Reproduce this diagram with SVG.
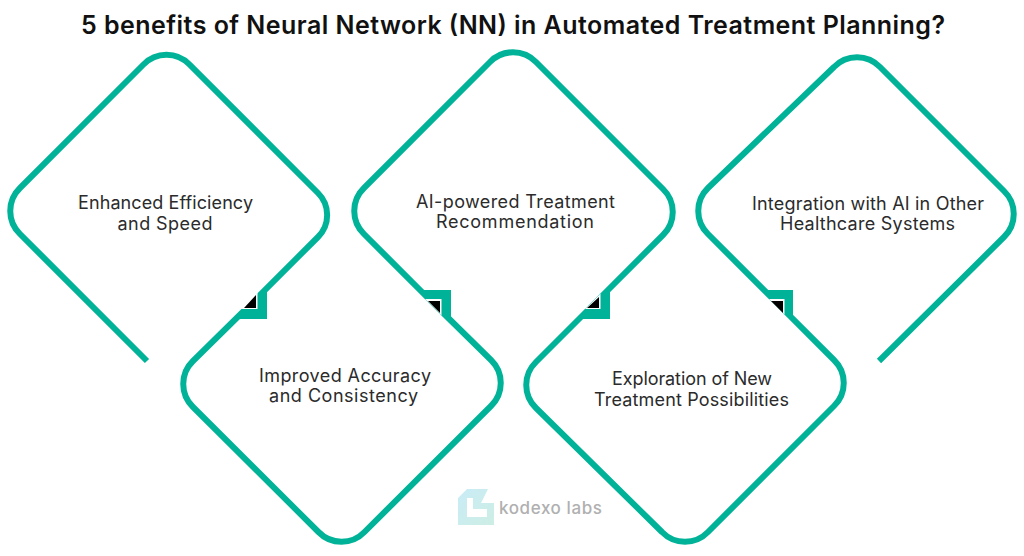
<svg xmlns="http://www.w3.org/2000/svg" width="1024" height="556" viewBox="0 0 1024 556">
<style>
.e{fill:none;stroke:#00b398;stroke-width:6;stroke-linecap:butt;stroke-linejoin:round}
.t{fill:#00b398}.w{fill:#fff}.k{fill:#000}
text{font-family:Inter,"Open Sans","Liberation Sans",sans-serif}
.l{font-size:18px;fill:#2b2b2b;text-anchor:middle}
</style>
<defs><linearGradient id="g" x1="0" y1="0" x2="1" y2="1"><stop offset="0" stop-color="#c9ecf7"/><stop offset="1" stop-color="#cdeee4"/></linearGradient></defs>
<rect width="1024" height="556" fill="#fff"/>
<text id="title" x="513" y="34" text-anchor="middle" font-size="25" font-weight="600" fill="#111" textLength="864" lengthAdjust="spacing">5 benefits of Neural Network (NN) in Automated Treatment Planning?</text>
<g id="connectors">
<path class="e" d="M147 361L20 234A32 32 0 0 1 20 188L143.500 64.500A32 32 0 0 1 189.500 64.500L318 193A31 31 0 0 1 318 237L245 310"/>
<path class="e" d="M258 297L193 361A32 32 0 0 0 193 407L318.500 532A32 32 0 0 0 364.500 532L491 406A32 32 0 0 0 491 360L430 300"/>
<path class="e" d="M441 311L364 234A32 32 0 0 1 364 188L490 62A32 32 0 0 1 536 62L663 189A32 32 0 0 1 663 235L590 308"/>
<path class="e" d="M601 297L536 362A32 32 0 0 0 536 408L662 532A32 32 0 0 0 708 532L834 406A32 32 0 0 0 834 360L774 300"/>
<path class="e" d="M785 311L708 234A32 32 0 0 1 708 188L834 67A32 32 0 0 1 880 67L1004 191A32 32 0 0 1 1004 237L879 361"/>
<polygon class="t" points="239,319 267,319 267,290"/>
<polygon class="w" points="257.500,291.500 257.500,309 240,309"/>
<polygon class="k" points="256,295 256,308 244,308"/>
<polygon class="t" points="423,290 451,290 451,318"/>
<polygon class="w" points="425,299 441.500,299 441.500,315.500"/>
<polygon class="k" points="428,301 440,301 440,313"/>
<polygon class="t" points="582,319 610,319 610,291"/>
<polygon class="w" points="600.500,293.500 600.500,309 585,309"/>
<polygon class="k" points="599,297 599,308 587,308"/>
<polygon class="t" points="766,290 793,290 793,317"/>
<polygon class="w" points="769,299 784.500,299 784.500,314.500"/>
<polygon class="k" points="771,301 783,301 783,313"/>
</g>
<g id="node1"><text class="l" x="165.500" y="209" textLength="175" lengthAdjust="spacing">Enhanced Efficiency</text><text class="l" x="165" y="230" textLength="95" lengthAdjust="spacing">and Speed</text></g>
<g id="node2"><text class="l" x="345" y="382" textLength="172" lengthAdjust="spacing">Improved Accuracy</text><text class="l" x="343.500" y="402" textLength="149" lengthAdjust="spacing">and Consistency</text></g>
<g id="node3"><text class="l" x="515.500" y="208" textLength="199" lengthAdjust="spacing">AI-powered Treatment</text><text class="l" x="515" y="228" textLength="158" lengthAdjust="spacing">Recommendation</text></g>
<g id="node4"><text class="l" x="692" y="385" textLength="160" lengthAdjust="spacing">Exploration of New</text><text class="l" x="691.500" y="406" textLength="195" lengthAdjust="spacing">Treatment Possibilities</text></g>
<g id="node5"><text class="l" x="868" y="210" textLength="232" lengthAdjust="spacing">Integration with AI in Other</text><text class="l" x="867.500" y="230" textLength="175" lengthAdjust="spacing">Healthcare Systems</text></g>
<g id="logo">
<path fill="url(#g)" d="M458 498L467 489H488L481 503H494V525H458Z"/>
<path fill="#fff" d="M467 498H473V509H487V517H467Z"/>
<text x="499" y="514" font-size="17" font-weight="500" fill="#b0b0b0" textLength="103" lengthAdjust="spacing">kodexo labs</text>
</g>
</svg>
